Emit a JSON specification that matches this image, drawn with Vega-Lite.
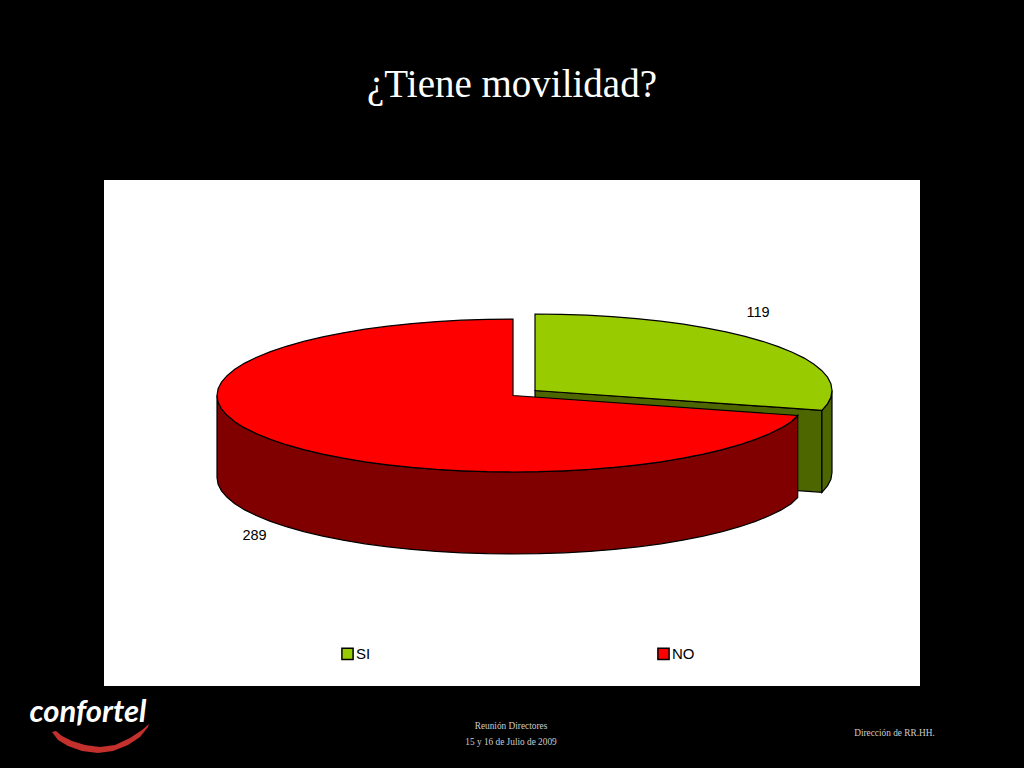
{"$schema":"https://vega.github.io/schema/vega-lite/v6.json","width":816,"height":506,"autosize":"none","padding":{"left":104,"top":180,"right":104,"bottom":82},"background":"#000000","view":{"fill":"#ffffff","stroke":null},"title":{"text":"¿Tiene movilidad?","anchor":"middle","offset":44,"baseline":"alphabetic","color":"#ffffff","font":"Liberation Serif","fontSize":39,"fontWeight":"normal"},"layer":[{"data":{"values":[
{"part":"SI lado","shape":"frente","x":431,"y":210.5},{"part":"SI lado","shape":"frente","x":717.9,"y":230.3},{"part":"SI lado","shape":"frente","x":717.9,"y":312.3},{"part":"SI lado","shape":"frente","x":431,"y":292.5},
{"part":"SI lado","shape":"borde","x":717.9,"y":230.3},{"part":"SI lado","shape":"borde","x":723.5,"y":223.8},{"part":"SI lado","shape":"borde","x":726.9,"y":217.2},{"part":"SI lado","shape":"borde","x":728,"y":210.5},{"part":"SI lado","shape":"borde","x":728,"y":292.5},{"part":"SI lado","shape":"borde","x":726.9,"y":299.2},{"part":"SI lado","shape":"borde","x":723.5,"y":305.8},{"part":"SI lado","shape":"borde","x":717.9,"y":312.3},
{"part":"SI","shape":"cara","x":431,"y":210.5},{"part":"SI","shape":"cara","x":431,"y":134},{"part":"SI","shape":"cara","x":456.9,"y":134.3},{"part":"SI","shape":"cara","x":482.6,"y":135.2},{"part":"SI","shape":"cara","x":507.9,"y":136.6},{"part":"SI","shape":"cara","x":532.6,"y":138.6},{"part":"SI","shape":"cara","x":556.6,"y":141.2},{"part":"SI","shape":"cara","x":579.5,"y":144.2},{"part":"SI","shape":"cara","x":601.5,"y":147.8},{"part":"SI","shape":"cara","x":622,"y":151.9},{"part":"SI","shape":"cara","x":641,"y":156.4},{"part":"SI","shape":"cara","x":658.5,"y":161.3},{"part":"SI","shape":"cara","x":674.3,"y":166.6},{"part":"SI","shape":"cara","x":688.2,"y":172.2},{"part":"SI","shape":"cara","x":700.2,"y":178.1},{"part":"SI","shape":"cara","x":710,"y":184.3},{"part":"SI","shape":"cara","x":717.9,"y":190.7},{"part":"SI","shape":"cara","x":723.5,"y":197.2},{"part":"SI","shape":"cara","x":726.9,"y":203.8},{"part":"SI","shape":"cara","x":728,"y":210.5},{"part":"SI","shape":"cara","x":726.9,"y":217.2},{"part":"SI","shape":"cara","x":723.5,"y":223.8},{"part":"SI","shape":"cara","x":717.9,"y":230.3},
{"part":"NO lado","shape":"lado","x":113,"y":215.5},{"part":"NO lado","shape":"lado","x":114.1,"y":222.2},{"part":"NO lado","shape":"lado","x":117.5,"y":228.8},{"part":"NO lado","shape":"lado","x":123.1,"y":235.3},{"part":"NO lado","shape":"lado","x":130.8,"y":241.7},{"part":"NO lado","shape":"lado","x":140.7,"y":247.9},{"part":"NO lado","shape":"lado","x":152.7,"y":253.8},{"part":"NO lado","shape":"lado","x":166.5,"y":259.4},{"part":"NO lado","shape":"lado","x":182.3,"y":264.7},{"part":"NO lado","shape":"lado","x":199.7,"y":269.6},{"part":"NO lado","shape":"lado","x":218.7,"y":274.1},{"part":"NO lado","shape":"lado","x":239.2,"y":278.2},{"part":"NO lado","shape":"lado","x":261,"y":281.8},{"part":"NO lado","shape":"lado","x":283.9,"y":284.8},{"part":"NO lado","shape":"lado","x":307.8,"y":287.4},{"part":"NO lado","shape":"lado","x":332.4,"y":289.4},{"part":"NO lado","shape":"lado","x":357.6,"y":290.8},{"part":"NO lado","shape":"lado","x":383.2,"y":291.7},{"part":"NO lado","shape":"lado","x":409,"y":292},{"part":"NO lado","shape":"lado","x":434.8,"y":291.7},{"part":"NO lado","shape":"lado","x":460.4,"y":290.8},{"part":"NO lado","shape":"lado","x":485.6,"y":289.4},{"part":"NO lado","shape":"lado","x":510.2,"y":287.4},{"part":"NO lado","shape":"lado","x":534.1,"y":284.8},{"part":"NO lado","shape":"lado","x":557,"y":281.8},{"part":"NO lado","shape":"lado","x":578.8,"y":278.2},{"part":"NO lado","shape":"lado","x":599.3,"y":274.1},{"part":"NO lado","shape":"lado","x":618.3,"y":269.6},{"part":"NO lado","shape":"lado","x":635.7,"y":264.7},{"part":"NO lado","shape":"lado","x":651.5,"y":259.4},{"part":"NO lado","shape":"lado","x":665.3,"y":253.8},{"part":"NO lado","shape":"lado","x":677.3,"y":247.9},{"part":"NO lado","shape":"lado","x":687.2,"y":241.7},{"part":"NO lado","shape":"lado","x":693.7,"y":235.5},{"part":"NO lado","shape":"lado","x":693.7,"y":317.5},{"part":"NO lado","shape":"lado","x":687.2,"y":323.7},{"part":"NO lado","shape":"lado","x":677.3,"y":329.9},{"part":"NO lado","shape":"lado","x":665.3,"y":335.8},{"part":"NO lado","shape":"lado","x":651.5,"y":341.4},{"part":"NO lado","shape":"lado","x":635.7,"y":346.7},{"part":"NO lado","shape":"lado","x":618.3,"y":351.6},{"part":"NO lado","shape":"lado","x":599.3,"y":356.1},{"part":"NO lado","shape":"lado","x":578.8,"y":360.2},{"part":"NO lado","shape":"lado","x":557,"y":363.8},{"part":"NO lado","shape":"lado","x":534.1,"y":366.8},{"part":"NO lado","shape":"lado","x":510.2,"y":369.4},{"part":"NO lado","shape":"lado","x":485.6,"y":371.4},{"part":"NO lado","shape":"lado","x":460.4,"y":372.8},{"part":"NO lado","shape":"lado","x":434.8,"y":373.7},{"part":"NO lado","shape":"lado","x":409,"y":374},{"part":"NO lado","shape":"lado","x":383.2,"y":373.7},{"part":"NO lado","shape":"lado","x":357.6,"y":372.8},{"part":"NO lado","shape":"lado","x":332.4,"y":371.4},{"part":"NO lado","shape":"lado","x":307.8,"y":369.4},{"part":"NO lado","shape":"lado","x":283.9,"y":366.8},{"part":"NO lado","shape":"lado","x":261,"y":363.8},{"part":"NO lado","shape":"lado","x":239.2,"y":360.2},{"part":"NO lado","shape":"lado","x":218.7,"y":356.1},{"part":"NO lado","shape":"lado","x":199.7,"y":351.6},{"part":"NO lado","shape":"lado","x":182.3,"y":346.7},{"part":"NO lado","shape":"lado","x":166.5,"y":341.4},{"part":"NO lado","shape":"lado","x":152.7,"y":335.8},{"part":"NO lado","shape":"lado","x":140.7,"y":329.9},{"part":"NO lado","shape":"lado","x":130.8,"y":323.7},{"part":"NO lado","shape":"lado","x":123.1,"y":317.3},{"part":"NO lado","shape":"lado","x":117.5,"y":310.8},{"part":"NO lado","shape":"lado","x":114.1,"y":304.2},{"part":"NO lado","shape":"lado","x":113,"y":297.5},
{"part":"NO","shape":"cara","x":409,"y":215.5},{"part":"NO","shape":"cara","x":409,"y":139},{"part":"NO","shape":"cara","x":383.2,"y":139.3},{"part":"NO","shape":"cara","x":357.6,"y":140.2},{"part":"NO","shape":"cara","x":332.4,"y":141.6},{"part":"NO","shape":"cara","x":307.8,"y":143.6},{"part":"NO","shape":"cara","x":283.9,"y":146.2},{"part":"NO","shape":"cara","x":261,"y":149.2},{"part":"NO","shape":"cara","x":239.2,"y":152.8},{"part":"NO","shape":"cara","x":218.7,"y":156.9},{"part":"NO","shape":"cara","x":199.7,"y":161.4},{"part":"NO","shape":"cara","x":182.3,"y":166.3},{"part":"NO","shape":"cara","x":166.5,"y":171.6},{"part":"NO","shape":"cara","x":152.7,"y":177.2},{"part":"NO","shape":"cara","x":140.7,"y":183.1},{"part":"NO","shape":"cara","x":130.8,"y":189.3},{"part":"NO","shape":"cara","x":123.1,"y":195.7},{"part":"NO","shape":"cara","x":117.5,"y":202.2},{"part":"NO","shape":"cara","x":114.1,"y":208.8},{"part":"NO","shape":"cara","x":113,"y":215.5},{"part":"NO","shape":"cara","x":114.1,"y":222.2},{"part":"NO","shape":"cara","x":117.5,"y":228.8},{"part":"NO","shape":"cara","x":123.1,"y":235.3},{"part":"NO","shape":"cara","x":130.8,"y":241.7},{"part":"NO","shape":"cara","x":140.7,"y":247.9},{"part":"NO","shape":"cara","x":152.7,"y":253.8},{"part":"NO","shape":"cara","x":166.5,"y":259.4},{"part":"NO","shape":"cara","x":182.3,"y":264.7},{"part":"NO","shape":"cara","x":199.7,"y":269.6},{"part":"NO","shape":"cara","x":218.7,"y":274.1},{"part":"NO","shape":"cara","x":239.2,"y":278.2},{"part":"NO","shape":"cara","x":261,"y":281.8},{"part":"NO","shape":"cara","x":283.9,"y":284.8},{"part":"NO","shape":"cara","x":307.8,"y":287.4},{"part":"NO","shape":"cara","x":332.4,"y":289.4},{"part":"NO","shape":"cara","x":357.6,"y":290.8},{"part":"NO","shape":"cara","x":383.2,"y":291.7},{"part":"NO","shape":"cara","x":409,"y":292},{"part":"NO","shape":"cara","x":434.8,"y":291.7},{"part":"NO","shape":"cara","x":460.4,"y":290.8},{"part":"NO","shape":"cara","x":485.6,"y":289.4},{"part":"NO","shape":"cara","x":510.2,"y":287.4},{"part":"NO","shape":"cara","x":534.1,"y":284.8},{"part":"NO","shape":"cara","x":557,"y":281.8},{"part":"NO","shape":"cara","x":578.8,"y":278.2},{"part":"NO","shape":"cara","x":599.3,"y":274.1},{"part":"NO","shape":"cara","x":618.3,"y":269.6},{"part":"NO","shape":"cara","x":635.7,"y":264.7},{"part":"NO","shape":"cara","x":651.5,"y":259.4},{"part":"NO","shape":"cara","x":665.3,"y":253.8},{"part":"NO","shape":"cara","x":677.3,"y":247.9},{"part":"NO","shape":"cara","x":687.2,"y":241.7},{"part":"NO","shape":"cara","x":693.7,"y":235.5}
]},"mark":{"type":"line","filled":true,"interpolate":"linear-closed","stroke":"#000000","strokeWidth":1.2,"clip":false},"encoding":{"x":{"field":"x","type":"quantitative","scale":{"domain":[0,816],"nice":false,"zero":false},"axis":null},"y":{"field":"y","type":"quantitative","scale":{"domain":[506,0],"nice":false,"zero":false},"axis":null},"detail":{"field":"shape"},"order":{"value":null},"fill":{"field":"part","type":"nominal","scale":{"domain":["SI","NO","SI lado","NO lado"],"range":["#99cc00","#ff0000","#4d6600","#800000"]},"legend":{"values":["SI","NO"],"title":null,"orient":"none","legendX":236,"legendY":466,"direction":"horizontal","columns":2,"columnPadding":283,"symbolType":"square","symbolSize":125,"symbolStrokeColor":"#000000","symbolStrokeWidth":1.5,"labelFont":"Liberation Sans","labelFontSize":15,"labelColor":"#000000","labelOffset":1}}}},
{"data":{"values":[{"answer":"SI","count":119,"x":654,"y":133},{"answer":"NO","count":289,"x":150.5,"y":356}]},"mark":{"type":"text","font":"Liberation Sans","fontSize":14.5,"color":"#000000"},"encoding":{"x":{"field":"x","type":"quantitative"},"y":{"field":"y","type":"quantitative"},"text":{"field":"count","type":"quantitative"}}},
{"data":{"values":[{"texto":"Reunión Directores","x":407,"y":545.5},{"texto":"15 y 16 de Julio de 2009","x":407,"y":561.5},{"texto":"Dirección de RR.HH.","x":790.5,"y":553}]},"mark":{"type":"text","font":"Liberation Serif","fontSize":9.3,"color":"#cccccc"},"encoding":{"x":{"field":"x","type":"quantitative"},"y":{"field":"y","type":"quantitative"},"text":{"field":"texto"}}},
{"data":{"values":[{"x":-52,"y":552},{"x":-48,"y":551},{"x":-42,"y":556},{"x":-32,"y":561},{"x":-19,"y":565},{"x":-4,"y":567},{"x":11,"y":565},{"x":26,"y":558},{"x":38,"y":550},{"x":45,"y":544},{"x":44,"y":547},{"x":36,"y":557},{"x":24,"y":565},{"x":9,"y":571},{"x":-6,"y":573},{"x":-22,"y":571},{"x":-36,"y":566},{"x":-46,"y":560}]},"mark":{"type":"line","filled":true,"interpolate":"linear-closed","fill":"#c4302b","stroke":null,"clip":false},"encoding":{"x":{"field":"x","type":"quantitative"},"y":{"field":"y","type":"quantitative"},"order":{"value":null}}},
{"data":{"values":[{"marca":"confortel","x":-16,"y":533}]},"mark":{"type":"text","font":"Lato","fontStyle":"italic","fontWeight":700,"fontSize":31,"color":"#ffffff"},"encoding":{"x":{"field":"x","type":"quantitative"},"y":{"field":"y","type":"quantitative"},"text":{"field":"marca"}}}
]}
